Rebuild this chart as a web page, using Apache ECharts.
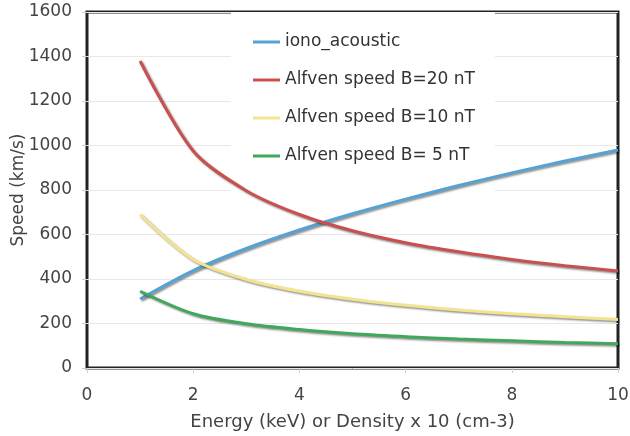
<!DOCTYPE html>
<html>
<head>
<meta charset="utf-8">
<script src="https://cdn.jsdelivr.net/npm/echarts@6/dist/echarts.min.js"></script>
<style>
  html, body { margin: 0; padding: 0; background: #fff; }
  #chart { width: 630px; height: 436px; }
</style>
</head>
<body>
<div id="chart"></div>
<script>
// Energy / density sample points along the x axis
const energy = [1, 2, 3, 4, 5, 6, 7, 8, 9, 10];

// Speeds in km/s
const ionoAcoustic = [310, 438, 537, 620, 693, 759, 820, 877, 930, 980];
const alfven20 = [1380, 975, 797, 690, 617, 563, 522, 488, 460, 436];
const alfven10 = [690, 488, 398, 345, 309, 282, 261, 244, 230, 218];
const alfven5 = [345, 244, 199, 173, 154, 141, 130, 122, 115, 109];

const seriesNames = ['iono_acoustic', 'Alfven speed B=20 nT', 'Alfven speed B=10 nT', 'Alfven speed B= 5 nT'];
const seriesValues = [ionoAcoustic, alfven20, alfven10, alfven5];
const seriesColors = ['#55a3d4', '#c9504e', '#f4e48e', '#3fa85a'];

const xTicks = [0, 2, 4, 6, 8, 10];
const yTicks = [0, 200, 400, 600, 800, 1000, 1200, 1400, 1600];

const font = '"DejaVu Sans", Verdana, sans-serif';
const chart = echarts.init(document.getElementById('chart'), null, { renderer: 'canvas' });

chart.setOption({
  animation: false,
  backgroundColor: '#fff',
  textStyle: { fontFamily: font },
  grid: {
    left: 87, right: 12, top: 12, bottom: 68,
    containLabel: false,
    outerBoundsMode: 'none',
    show: true, borderColor: '#222', borderWidth: 3, backgroundColor: 'transparent'
  },
  legend: {
    orient: 'vertical',
    left: 231, top: 12,
    z: 1,
    padding: [20, 20, 30, 22],
    backgroundColor: '#fff',
    itemGap: 18,
    itemWidth: 27, itemHeight: 3,
    icon: 'rect',
    textStyle: { fontFamily: font, fontSize: 17, color: '#333', lineHeight: 20 },
    data: seriesNames
  },
  xAxis: {
    type: 'value',
    min: xTicks[0], max: xTicks[xTicks.length - 1], interval: 2,
    name: 'Energy (keV) or Density x 10 (cm-3)',
    nameLocation: 'middle', nameGap: 45,
    nameMoveOverlap: false,
    nameTextStyle: { fontFamily: font, fontSize: 18, color: '#444' },
    axisLine: { show: false },
    axisTick: { show: true, length: 5, lineStyle: { color: '#cfcfcf' } },
    axisLabel: { fontFamily: font, fontSize: 17, color: '#444', margin: 19, formatter: v => String(v) },
    splitLine: { show: false }
  },
  yAxis: {
    type: 'value',
    min: yTicks[0], max: yTicks[yTicks.length - 1], interval: 200,
    name: 'Speed (km/s)',
    nameLocation: 'middle', nameGap: 60,
    nameMoveOverlap: false,
    nameTextStyle: { fontFamily: font, fontSize: 17, color: '#444' },
    axisLine: { show: false },
    axisTick: { show: true, length: 5, lineStyle: { color: '#cfcfcf' } },
    axisLabel: { fontFamily: font, fontSize: 17, color: '#444', margin: 15, formatter: v => String(v) },
    splitLine: { show: true, lineStyle: { color: '#e8e8e8', width: 1 } }
  },
  series: seriesNames.map((name, i) => ({
    name: name,
    type: 'line',
    z: 3,
    smooth: 0.3,
    showSymbol: false,
    symbol: 'none',
    color: seriesColors[i],
    lineStyle: {
      width: 3,
      color: seriesColors[i],
      shadowColor: 'rgba(0,0,0,0.45)',
      shadowBlur: 2,
      shadowOffsetX: 1.5,
      shadowOffsetY: 1.5
    },
    data: energy.map((x, k) => [x, seriesValues[i][k]])
  }))
});
</script>
</body>
</html>
